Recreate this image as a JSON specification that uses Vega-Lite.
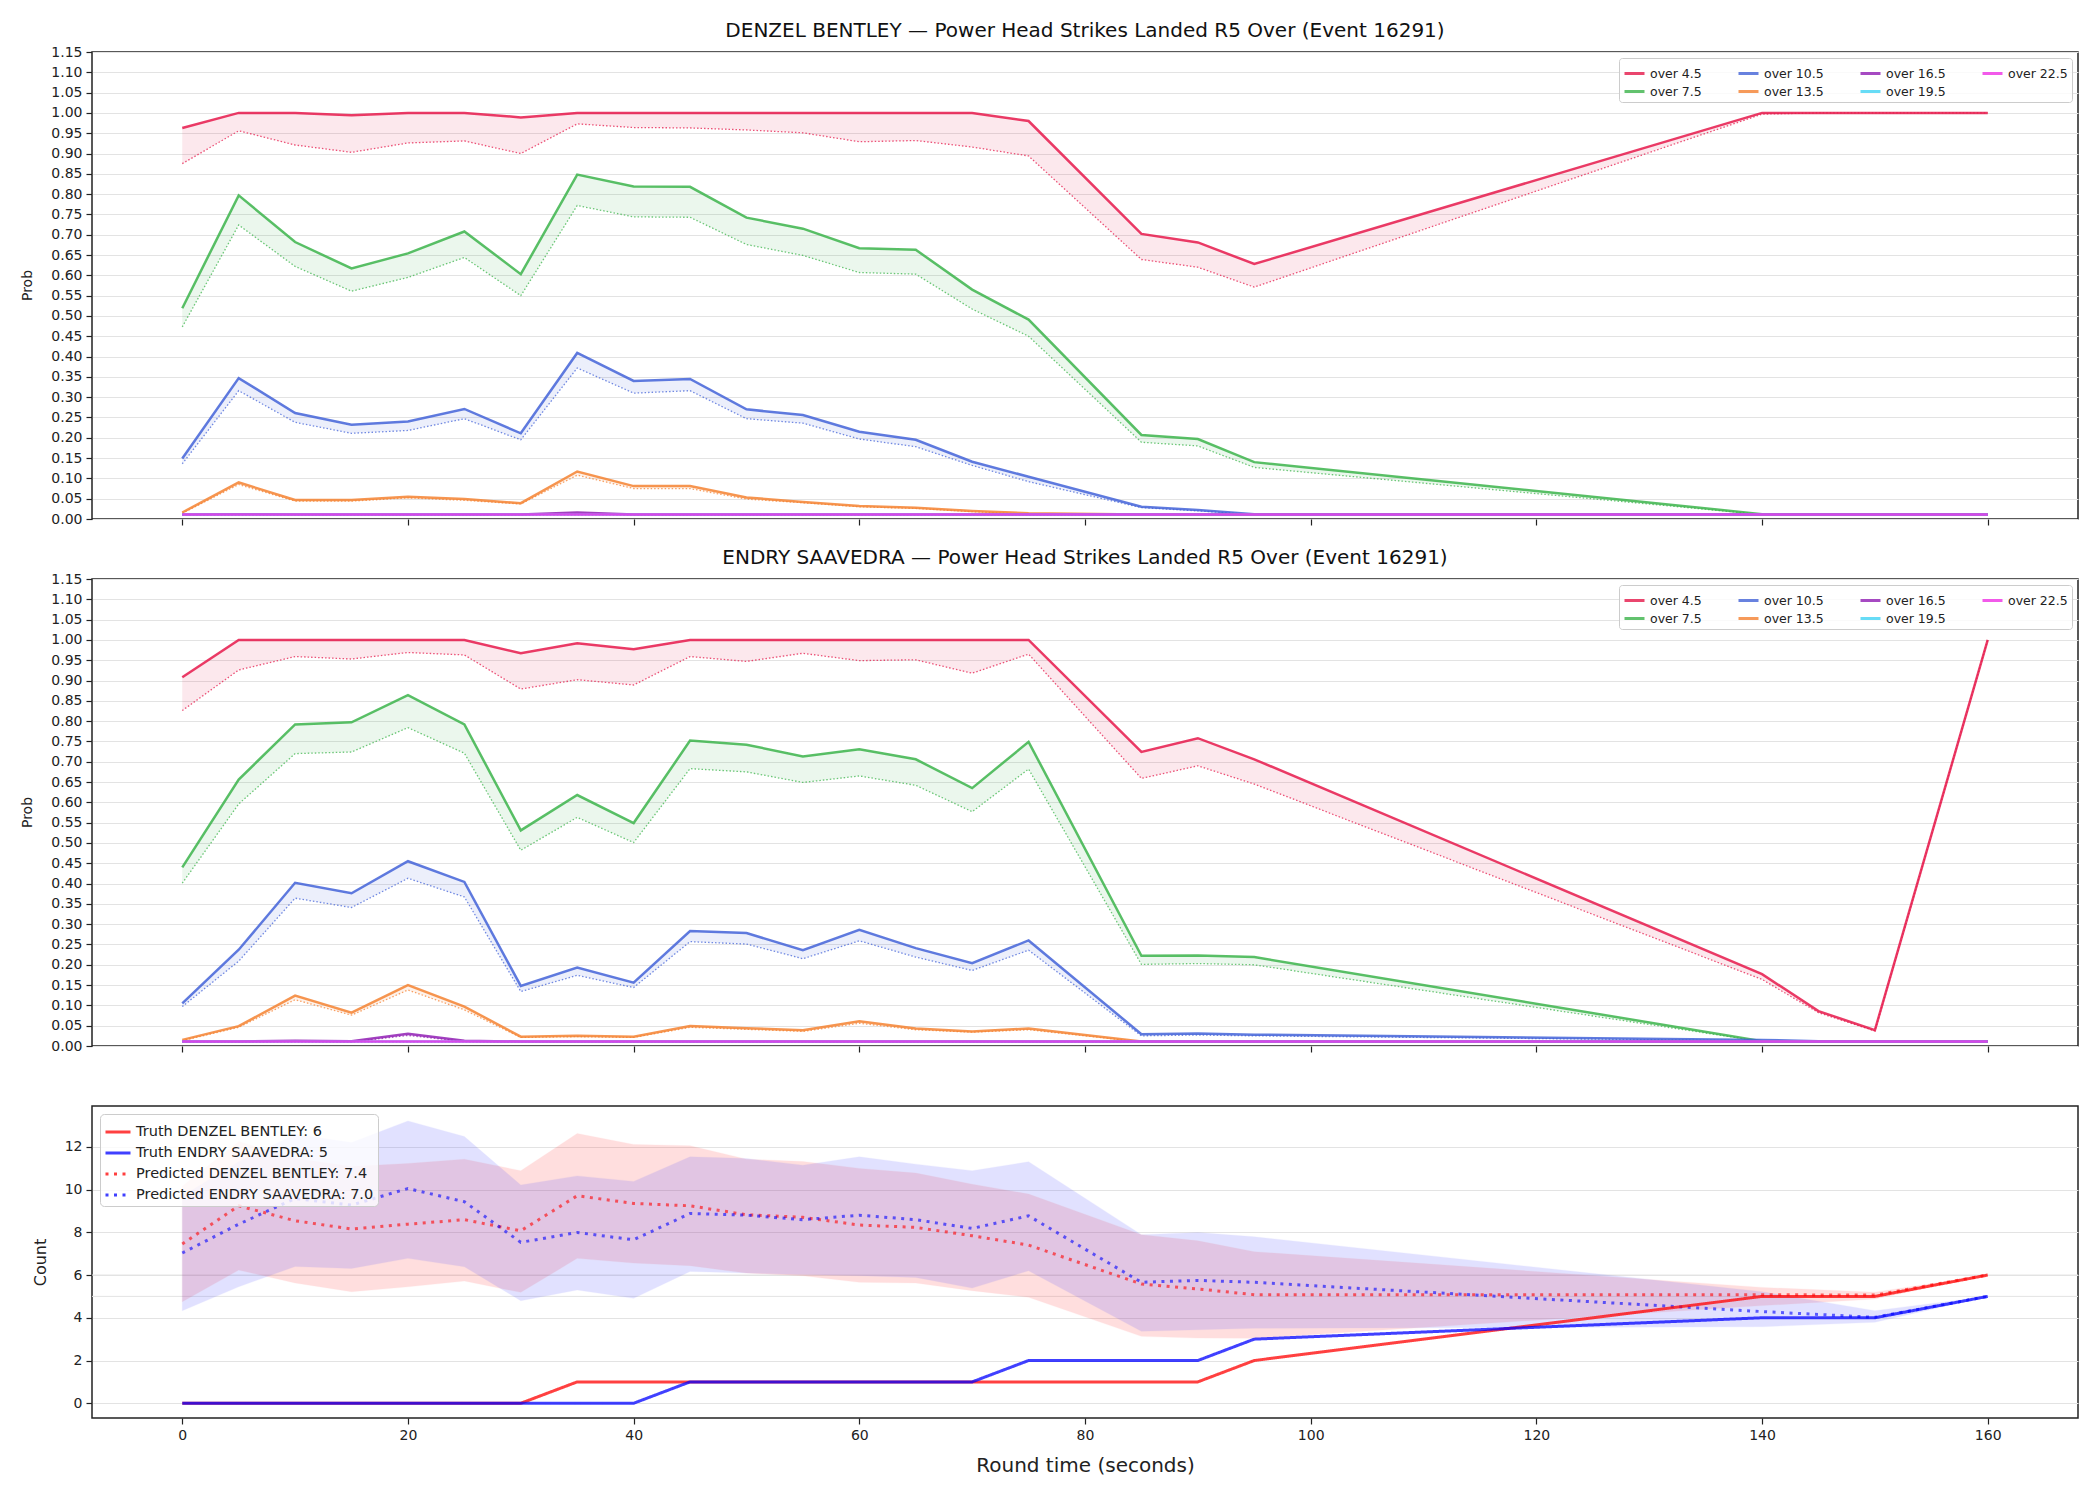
{
"$schema":"https://vega.github.io/schema/vega-lite/v6.json",
"autosize":{"type":"none"},
"padding":{"left":92,"top":52,"right":2008,"bottom":1448},
"background":"white",
"bounds":"flush",
"spacing":60,
"config":{
 "font":"DejaVu Sans",
 "view":{"stroke":"#222222","strokeWidth":1.5},
 "axis":{"labelFont":"DejaVu Sans","labelFontSize":14,"labelColor":"#222222","titleFont":"DejaVu Sans","titleFontWeight":"normal","titleColor":"#222222","tickColor":"#222222","tickSize":6,"tickWidth":1.2,"domain":false,"gridColor":"#e3e3e3","gridWidth":1,"labelPadding":4,"labelOverlap":false,"labelFlush":false,"labelBound":false},
 "axisX":{"grid":false},
 "title":{"font":"DejaVu Sans","fontSize":20,"fontWeight":"normal","color":"#111111","offset":4}
},
"datasets":{
"prob":[
{"g":"A","s":"over 4.5","t":0,"p":0.963,"q":0.875},{"g":"A","s":"over 4.5","t":5,"p":1,"q":0.956},{"g":"A","s":"over 4.5","t":10,"p":1,"q":0.921},{"g":"A","s":"over 4.5","t":15,"p":0.994,"q":0.903},{"g":"A","s":"over 4.5","t":20,"p":1,"q":0.926},{"g":"A","s":"over 4.5","t":25,"p":1,"q":0.931},{"g":"A","s":"over 4.5","t":30,"p":0.989,"q":0.9},{"g":"A","s":"over 4.5","t":35,"p":1,"q":0.973},{"g":"A","s":"over 4.5","t":40,"p":1,"q":0.964},{"g":"A","s":"over 4.5","t":45,"p":1,"q":0.963},{"g":"A","s":"over 4.5","t":50,"p":1,"q":0.958},{"g":"A","s":"over 4.5","t":55,"p":1,"q":0.951},{"g":"A","s":"over 4.5","t":60,"p":1,"q":0.929},{"g":"A","s":"over 4.5","t":65,"p":1,"q":0.932},{"g":"A","s":"over 4.5","t":70,"p":1,"q":0.916},{"g":"A","s":"over 4.5","t":75,"p":0.98,"q":0.894},{"g":"A","s":"over 4.5","t":85,"p":0.702,"q":0.639},{"g":"A","s":"over 4.5","t":90,"p":0.681,"q":0.62},{"g":"A","s":"over 4.5","t":95,"p":0.628,"q":0.571},{"g":"A","s":"over 4.5","t":140,"p":1,"q":0.997},{"g":"A","s":"over 4.5","t":145,"p":1,"q":1},{"g":"A","s":"over 4.5","t":150,"p":1,"q":1},{"g":"A","s":"over 4.5","t":160,"p":1,"q":1},
{"g":"A","s":"over 7.5","t":0,"p":0.519,"q":0.473},{"g":"A","s":"over 7.5","t":5,"p":0.797,"q":0.724},{"g":"A","s":"over 7.5","t":10,"p":0.682,"q":0.622},{"g":"A","s":"over 7.5","t":15,"p":0.617,"q":0.561},{"g":"A","s":"over 7.5","t":20,"p":0.654,"q":0.595},{"g":"A","s":"over 7.5","t":25,"p":0.708,"q":0.644},{"g":"A","s":"over 7.5","t":30,"p":0.603,"q":0.55},{"g":"A","s":"over 7.5","t":35,"p":0.848,"q":0.772},{"g":"A","s":"over 7.5","t":40,"p":0.819,"q":0.744},{"g":"A","s":"over 7.5","t":45,"p":0.818,"q":0.743},{"g":"A","s":"over 7.5","t":50,"p":0.742,"q":0.676},{"g":"A","s":"over 7.5","t":55,"p":0.715,"q":0.649},{"g":"A","s":"over 7.5","t":60,"p":0.667,"q":0.607},{"g":"A","s":"over 7.5","t":65,"p":0.663,"q":0.603},{"g":"A","s":"over 7.5","t":70,"p":0.565,"q":0.517},{"g":"A","s":"over 7.5","t":75,"p":0.491,"q":0.45},{"g":"A","s":"over 7.5","t":85,"p":0.207,"q":0.189},{"g":"A","s":"over 7.5","t":90,"p":0.197,"q":0.18},{"g":"A","s":"over 7.5","t":95,"p":0.14,"q":0.127},{"g":"A","s":"over 7.5","t":140,"p":0.012,"q":0.011},{"g":"A","s":"over 7.5","t":145,"p":0.011,"q":0.01},{"g":"A","s":"over 7.5","t":150,"p":0.011,"q":0.01},{"g":"A","s":"over 7.5","t":160,"p":0.011,"q":0.01},
{"g":"A","s":"over 10.5","t":0,"p":0.149,"q":0.136},{"g":"A","s":"over 10.5","t":5,"p":0.347,"q":0.316},{"g":"A","s":"over 10.5","t":10,"p":0.261,"q":0.238},{"g":"A","s":"over 10.5","t":15,"p":0.232,"q":0.211},{"g":"A","s":"over 10.5","t":20,"p":0.24,"q":0.218},{"g":"A","s":"over 10.5","t":25,"p":0.271,"q":0.247},{"g":"A","s":"over 10.5","t":30,"p":0.211,"q":0.195},{"g":"A","s":"over 10.5","t":35,"p":0.409,"q":0.372},{"g":"A","s":"over 10.5","t":40,"p":0.34,"q":0.31},{"g":"A","s":"over 10.5","t":45,"p":0.345,"q":0.316},{"g":"A","s":"over 10.5","t":50,"p":0.27,"q":0.247},{"g":"A","s":"over 10.5","t":55,"p":0.256,"q":0.236},{"g":"A","s":"over 10.5","t":60,"p":0.215,"q":0.197},{"g":"A","s":"over 10.5","t":65,"p":0.195,"q":0.178},{"g":"A","s":"over 10.5","t":70,"p":0.141,"q":0.132},{"g":"A","s":"over 10.5","t":75,"p":0.104,"q":0.092},{"g":"A","s":"over 10.5","t":85,"p":0.03,"q":0.028},{"g":"A","s":"over 10.5","t":90,"p":0.022,"q":0.02},{"g":"A","s":"over 10.5","t":95,"p":0.012,"q":0.011},{"g":"A","s":"over 10.5","t":140,"p":0.011,"q":0.01},{"g":"A","s":"over 10.5","t":145,"p":0.011,"q":0.01},{"g":"A","s":"over 10.5","t":150,"p":0.011,"q":0.01},{"g":"A","s":"over 10.5","t":160,"p":0.011,"q":0.01},
{"g":"A","s":"over 13.5","t":0,"p":0.016,"q":0.014},{"g":"A","s":"over 13.5","t":5,"p":0.09,"q":0.085},{"g":"A","s":"over 13.5","t":10,"p":0.047,"q":0.044},{"g":"A","s":"over 13.5","t":15,"p":0.047,"q":0.044},{"g":"A","s":"over 13.5","t":20,"p":0.055,"q":0.052},{"g":"A","s":"over 13.5","t":25,"p":0.049,"q":0.046},{"g":"A","s":"over 13.5","t":30,"p":0.039,"q":0.037},{"g":"A","s":"over 13.5","t":35,"p":0.117,"q":0.108},{"g":"A","s":"over 13.5","t":40,"p":0.081,"q":0.075},{"g":"A","s":"over 13.5","t":45,"p":0.081,"q":0.075},{"g":"A","s":"over 13.5","t":50,"p":0.053,"q":0.049},{"g":"A","s":"over 13.5","t":55,"p":0.042,"q":0.04},{"g":"A","s":"over 13.5","t":60,"p":0.032,"q":0.03},{"g":"A","s":"over 13.5","t":65,"p":0.028,"q":0.026},{"g":"A","s":"over 13.5","t":70,"p":0.02,"q":0.018},{"g":"A","s":"over 13.5","t":75,"p":0.014,"q":0.012},{"g":"A","s":"over 13.5","t":85,"p":0.011,"q":0.01},{"g":"A","s":"over 13.5","t":90,"p":0.011,"q":0.01},{"g":"A","s":"over 13.5","t":95,"p":0.011,"q":0.01},{"g":"A","s":"over 13.5","t":140,"p":0.011,"q":0.01},{"g":"A","s":"over 13.5","t":145,"p":0.011,"q":0.01},{"g":"A","s":"over 13.5","t":150,"p":0.011,"q":0.01},{"g":"A","s":"over 13.5","t":160,"p":0.011,"q":0.01},
{"g":"A","s":"over 16.5","t":0,"p":0.011,"q":0.01},{"g":"A","s":"over 16.5","t":5,"p":0.012,"q":0.01},{"g":"A","s":"over 16.5","t":10,"p":0.011,"q":0.01},{"g":"A","s":"over 16.5","t":15,"p":0.011,"q":0.01},{"g":"A","s":"over 16.5","t":20,"p":0.011,"q":0.01},{"g":"A","s":"over 16.5","t":25,"p":0.011,"q":0.01},{"g":"A","s":"over 16.5","t":30,"p":0.011,"q":0.01},{"g":"A","s":"over 16.5","t":35,"p":0.016,"q":0.013},{"g":"A","s":"over 16.5","t":40,"p":0.011,"q":0.01},{"g":"A","s":"over 16.5","t":45,"p":0.011,"q":0.01},{"g":"A","s":"over 16.5","t":50,"p":0.011,"q":0.01},{"g":"A","s":"over 16.5","t":55,"p":0.011,"q":0.01},{"g":"A","s":"over 16.5","t":60,"p":0.011,"q":0.01},{"g":"A","s":"over 16.5","t":65,"p":0.011,"q":0.01},{"g":"A","s":"over 16.5","t":70,"p":0.011,"q":0.01},{"g":"A","s":"over 16.5","t":75,"p":0.011,"q":0.01},{"g":"A","s":"over 16.5","t":85,"p":0.011,"q":0.01},{"g":"A","s":"over 16.5","t":90,"p":0.011,"q":0.01},{"g":"A","s":"over 16.5","t":95,"p":0.011,"q":0.01},{"g":"A","s":"over 16.5","t":140,"p":0.011,"q":0.01},{"g":"A","s":"over 16.5","t":145,"p":0.011,"q":0.01},{"g":"A","s":"over 16.5","t":150,"p":0.011,"q":0.01},{"g":"A","s":"over 16.5","t":160,"p":0.011,"q":0.01},
{"g":"A","s":"over 19.5","t":0,"p":0.011,"q":0.01},{"g":"A","s":"over 19.5","t":5,"p":0.011,"q":0.01},{"g":"A","s":"over 19.5","t":10,"p":0.011,"q":0.01},{"g":"A","s":"over 19.5","t":15,"p":0.011,"q":0.01},{"g":"A","s":"over 19.5","t":20,"p":0.011,"q":0.01},{"g":"A","s":"over 19.5","t":25,"p":0.011,"q":0.01},{"g":"A","s":"over 19.5","t":30,"p":0.011,"q":0.01},{"g":"A","s":"over 19.5","t":35,"p":0.011,"q":0.01},{"g":"A","s":"over 19.5","t":40,"p":0.011,"q":0.01},{"g":"A","s":"over 19.5","t":45,"p":0.011,"q":0.01},{"g":"A","s":"over 19.5","t":50,"p":0.011,"q":0.01},{"g":"A","s":"over 19.5","t":55,"p":0.011,"q":0.01},{"g":"A","s":"over 19.5","t":60,"p":0.011,"q":0.01},{"g":"A","s":"over 19.5","t":65,"p":0.011,"q":0.01},{"g":"A","s":"over 19.5","t":70,"p":0.011,"q":0.01},{"g":"A","s":"over 19.5","t":75,"p":0.011,"q":0.01},{"g":"A","s":"over 19.5","t":85,"p":0.011,"q":0.01},{"g":"A","s":"over 19.5","t":90,"p":0.011,"q":0.01},{"g":"A","s":"over 19.5","t":95,"p":0.011,"q":0.01},{"g":"A","s":"over 19.5","t":140,"p":0.011,"q":0.01},{"g":"A","s":"over 19.5","t":145,"p":0.011,"q":0.01},{"g":"A","s":"over 19.5","t":150,"p":0.011,"q":0.01},{"g":"A","s":"over 19.5","t":160,"p":0.011,"q":0.01},
{"g":"A","s":"over 22.5","t":0,"p":0.011,"q":0.01},{"g":"A","s":"over 22.5","t":5,"p":0.011,"q":0.01},{"g":"A","s":"over 22.5","t":10,"p":0.011,"q":0.01},{"g":"A","s":"over 22.5","t":15,"p":0.011,"q":0.01},{"g":"A","s":"over 22.5","t":20,"p":0.011,"q":0.01},{"g":"A","s":"over 22.5","t":25,"p":0.011,"q":0.01},{"g":"A","s":"over 22.5","t":30,"p":0.011,"q":0.01},{"g":"A","s":"over 22.5","t":35,"p":0.011,"q":0.01},{"g":"A","s":"over 22.5","t":40,"p":0.011,"q":0.01},{"g":"A","s":"over 22.5","t":45,"p":0.011,"q":0.01},{"g":"A","s":"over 22.5","t":50,"p":0.011,"q":0.01},{"g":"A","s":"over 22.5","t":55,"p":0.011,"q":0.01},{"g":"A","s":"over 22.5","t":60,"p":0.011,"q":0.01},{"g":"A","s":"over 22.5","t":65,"p":0.011,"q":0.01},{"g":"A","s":"over 22.5","t":70,"p":0.011,"q":0.01},{"g":"A","s":"over 22.5","t":75,"p":0.011,"q":0.01},{"g":"A","s":"over 22.5","t":85,"p":0.011,"q":0.01},{"g":"A","s":"over 22.5","t":90,"p":0.011,"q":0.01},{"g":"A","s":"over 22.5","t":95,"p":0.011,"q":0.01},{"g":"A","s":"over 22.5","t":140,"p":0.011,"q":0.01},{"g":"A","s":"over 22.5","t":145,"p":0.011,"q":0.01},{"g":"A","s":"over 22.5","t":150,"p":0.011,"q":0.01},{"g":"A","s":"over 22.5","t":160,"p":0.011,"q":0.01},
{"g":"B","s":"over 4.5","t":0,"p":0.908,"q":0.826},{"g":"B","s":"over 4.5","t":5,"p":1,"q":0.926},{"g":"B","s":"over 4.5","t":10,"p":1,"q":0.959},{"g":"B","s":"over 4.5","t":15,"p":1,"q":0.953},{"g":"B","s":"over 4.5","t":20,"p":1,"q":0.969},{"g":"B","s":"over 4.5","t":25,"p":1,"q":0.963},{"g":"B","s":"over 4.5","t":30,"p":0.967,"q":0.879},{"g":"B","s":"over 4.5","t":35,"p":0.992,"q":0.902},{"g":"B","s":"over 4.5","t":40,"p":0.977,"q":0.889},{"g":"B","s":"over 4.5","t":45,"p":1,"q":0.959},{"g":"B","s":"over 4.5","t":50,"p":1,"q":0.947},{"g":"B","s":"over 4.5","t":55,"p":1,"q":0.967},{"g":"B","s":"over 4.5","t":60,"p":1,"q":0.949},{"g":"B","s":"over 4.5","t":65,"p":1,"q":0.951},{"g":"B","s":"over 4.5","t":70,"p":1,"q":0.918},{"g":"B","s":"over 4.5","t":75,"p":1,"q":0.965},{"g":"B","s":"over 4.5","t":85,"p":0.724,"q":0.659},{"g":"B","s":"over 4.5","t":90,"p":0.758,"q":0.69},{"g":"B","s":"over 4.5","t":95,"p":0.706,"q":0.645},{"g":"B","s":"over 4.5","t":140,"p":0.177,"q":0.164},{"g":"B","s":"over 4.5","t":145,"p":0.086,"q":0.082},{"g":"B","s":"over 4.5","t":150,"p":0.039,"q":0.037},{"g":"B","s":"over 4.5","t":160,"p":1,"q":1},
{"g":"B","s":"over 7.5","t":0,"p":0.44,"q":0.401},{"g":"B","s":"over 7.5","t":5,"p":0.656,"q":0.596},{"g":"B","s":"over 7.5","t":10,"p":0.792,"q":0.72},{"g":"B","s":"over 7.5","t":15,"p":0.797,"q":0.724},{"g":"B","s":"over 7.5","t":20,"p":0.864,"q":0.784},{"g":"B","s":"over 7.5","t":25,"p":0.792,"q":0.721},{"g":"B","s":"over 7.5","t":30,"p":0.531,"q":0.482},{"g":"B","s":"over 7.5","t":35,"p":0.618,"q":0.563},{"g":"B","s":"over 7.5","t":40,"p":0.549,"q":0.501},{"g":"B","s":"over 7.5","t":45,"p":0.752,"q":0.683},{"g":"B","s":"over 7.5","t":50,"p":0.742,"q":0.675},{"g":"B","s":"over 7.5","t":55,"p":0.713,"q":0.649},{"g":"B","s":"over 7.5","t":60,"p":0.731,"q":0.665},{"g":"B","s":"over 7.5","t":65,"p":0.706,"q":0.642},{"g":"B","s":"over 7.5","t":70,"p":0.635,"q":0.577},{"g":"B","s":"over 7.5","t":75,"p":0.749,"q":0.682},{"g":"B","s":"over 7.5","t":85,"p":0.222,"q":0.201},{"g":"B","s":"over 7.5","t":90,"p":0.223,"q":0.203},{"g":"B","s":"over 7.5","t":95,"p":0.219,"q":0.2},{"g":"B","s":"over 7.5","t":140,"p":0.012,"q":0.011},{"g":"B","s":"over 7.5","t":145,"p":0.011,"q":0.01},{"g":"B","s":"over 7.5","t":150,"p":0.011,"q":0.01},{"g":"B","s":"over 7.5","t":160,"p":0.011,"q":0.01},
{"g":"B","s":"over 10.5","t":0,"p":0.105,"q":0.097},{"g":"B","s":"over 10.5","t":5,"p":0.237,"q":0.209},{"g":"B","s":"over 10.5","t":10,"p":0.402,"q":0.364},{"g":"B","s":"over 10.5","t":15,"p":0.376,"q":0.341},{"g":"B","s":"over 10.5","t":20,"p":0.455,"q":0.413},{"g":"B","s":"over 10.5","t":25,"p":0.404,"q":0.367},{"g":"B","s":"over 10.5","t":30,"p":0.148,"q":0.134},{"g":"B","s":"over 10.5","t":35,"p":0.193,"q":0.174},{"g":"B","s":"over 10.5","t":40,"p":0.156,"q":0.144},{"g":"B","s":"over 10.5","t":45,"p":0.283,"q":0.257},{"g":"B","s":"over 10.5","t":50,"p":0.278,"q":0.251},{"g":"B","s":"over 10.5","t":55,"p":0.236,"q":0.215},{"g":"B","s":"over 10.5","t":60,"p":0.286,"q":0.259},{"g":"B","s":"over 10.5","t":65,"p":0.241,"q":0.219},{"g":"B","s":"over 10.5","t":70,"p":0.204,"q":0.186},{"g":"B","s":"over 10.5","t":75,"p":0.26,"q":0.236},{"g":"B","s":"over 10.5","t":85,"p":0.029,"q":0.025},{"g":"B","s":"over 10.5","t":90,"p":0.031,"q":0.027},{"g":"B","s":"over 10.5","t":95,"p":0.028,"q":0.025},{"g":"B","s":"over 10.5","t":140,"p":0.015,"q":0.013},{"g":"B","s":"over 10.5","t":145,"p":0.012,"q":0.011},{"g":"B","s":"over 10.5","t":150,"p":0.011,"q":0.01},{"g":"B","s":"over 10.5","t":160,"p":0.011,"q":0.01},
{"g":"B","s":"over 13.5","t":0,"p":0.015,"q":0.013},{"g":"B","s":"over 13.5","t":5,"p":0.049,"q":0.046},{"g":"B","s":"over 13.5","t":10,"p":0.124,"q":0.114},{"g":"B","s":"over 13.5","t":15,"p":0.082,"q":0.076},{"g":"B","s":"over 13.5","t":20,"p":0.15,"q":0.138},{"g":"B","s":"over 13.5","t":25,"p":0.097,"q":0.089},{"g":"B","s":"over 13.5","t":30,"p":0.023,"q":0.021},{"g":"B","s":"over 13.5","t":35,"p":0.025,"q":0.023},{"g":"B","s":"over 13.5","t":40,"p":0.023,"q":0.021},{"g":"B","s":"over 13.5","t":45,"p":0.049,"q":0.046},{"g":"B","s":"over 13.5","t":50,"p":0.044,"q":0.041},{"g":"B","s":"over 13.5","t":55,"p":0.039,"q":0.036},{"g":"B","s":"over 13.5","t":60,"p":0.061,"q":0.056},{"g":"B","s":"over 13.5","t":65,"p":0.043,"q":0.04},{"g":"B","s":"over 13.5","t":70,"p":0.036,"q":0.034},{"g":"B","s":"over 13.5","t":75,"p":0.043,"q":0.04},{"g":"B","s":"over 13.5","t":85,"p":0.011,"q":0.01},{"g":"B","s":"over 13.5","t":90,"p":0.011,"q":0.01},{"g":"B","s":"over 13.5","t":95,"p":0.011,"q":0.01},{"g":"B","s":"over 13.5","t":140,"p":0.011,"q":0.01},{"g":"B","s":"over 13.5","t":145,"p":0.011,"q":0.01},{"g":"B","s":"over 13.5","t":150,"p":0.011,"q":0.01},{"g":"B","s":"over 13.5","t":160,"p":0.011,"q":0.01},
{"g":"B","s":"over 16.5","t":0,"p":0.011,"q":0.01},{"g":"B","s":"over 16.5","t":5,"p":0.011,"q":0.01},{"g":"B","s":"over 16.5","t":10,"p":0.013,"q":0.011},{"g":"B","s":"over 16.5","t":15,"p":0.012,"q":0.01},{"g":"B","s":"over 16.5","t":20,"p":0.03,"q":0.026},{"g":"B","s":"over 16.5","t":25,"p":0.013,"q":0.011},{"g":"B","s":"over 16.5","t":30,"p":0.011,"q":0.01},{"g":"B","s":"over 16.5","t":35,"p":0.011,"q":0.01},{"g":"B","s":"over 16.5","t":40,"p":0.011,"q":0.01},{"g":"B","s":"over 16.5","t":45,"p":0.011,"q":0.01},{"g":"B","s":"over 16.5","t":50,"p":0.011,"q":0.01},{"g":"B","s":"over 16.5","t":55,"p":0.011,"q":0.01},{"g":"B","s":"over 16.5","t":60,"p":0.011,"q":0.01},{"g":"B","s":"over 16.5","t":65,"p":0.011,"q":0.01},{"g":"B","s":"over 16.5","t":70,"p":0.011,"q":0.01},{"g":"B","s":"over 16.5","t":75,"p":0.011,"q":0.01},{"g":"B","s":"over 16.5","t":85,"p":0.011,"q":0.01},{"g":"B","s":"over 16.5","t":90,"p":0.011,"q":0.01},{"g":"B","s":"over 16.5","t":95,"p":0.011,"q":0.01},{"g":"B","s":"over 16.5","t":140,"p":0.011,"q":0.01},{"g":"B","s":"over 16.5","t":145,"p":0.011,"q":0.01},{"g":"B","s":"over 16.5","t":150,"p":0.011,"q":0.01},{"g":"B","s":"over 16.5","t":160,"p":0.011,"q":0.01},
{"g":"B","s":"over 19.5","t":0,"p":0.011,"q":0.01},{"g":"B","s":"over 19.5","t":5,"p":0.011,"q":0.01},{"g":"B","s":"over 19.5","t":10,"p":0.011,"q":0.01},{"g":"B","s":"over 19.5","t":15,"p":0.011,"q":0.01},{"g":"B","s":"over 19.5","t":20,"p":0.011,"q":0.01},{"g":"B","s":"over 19.5","t":25,"p":0.011,"q":0.01},{"g":"B","s":"over 19.5","t":30,"p":0.011,"q":0.01},{"g":"B","s":"over 19.5","t":35,"p":0.011,"q":0.01},{"g":"B","s":"over 19.5","t":40,"p":0.011,"q":0.01},{"g":"B","s":"over 19.5","t":45,"p":0.011,"q":0.01},{"g":"B","s":"over 19.5","t":50,"p":0.011,"q":0.01},{"g":"B","s":"over 19.5","t":55,"p":0.011,"q":0.01},{"g":"B","s":"over 19.5","t":60,"p":0.011,"q":0.01},{"g":"B","s":"over 19.5","t":65,"p":0.011,"q":0.01},{"g":"B","s":"over 19.5","t":70,"p":0.011,"q":0.01},{"g":"B","s":"over 19.5","t":75,"p":0.011,"q":0.01},{"g":"B","s":"over 19.5","t":85,"p":0.011,"q":0.01},{"g":"B","s":"over 19.5","t":90,"p":0.011,"q":0.01},{"g":"B","s":"over 19.5","t":95,"p":0.011,"q":0.01},{"g":"B","s":"over 19.5","t":140,"p":0.011,"q":0.01},{"g":"B","s":"over 19.5","t":145,"p":0.011,"q":0.01},{"g":"B","s":"over 19.5","t":150,"p":0.011,"q":0.01},{"g":"B","s":"over 19.5","t":160,"p":0.011,"q":0.01},
{"g":"B","s":"over 22.5","t":0,"p":0.011,"q":0.01},{"g":"B","s":"over 22.5","t":5,"p":0.011,"q":0.01},{"g":"B","s":"over 22.5","t":10,"p":0.011,"q":0.01},{"g":"B","s":"over 22.5","t":15,"p":0.011,"q":0.01},{"g":"B","s":"over 22.5","t":20,"p":0.011,"q":0.01},{"g":"B","s":"over 22.5","t":25,"p":0.011,"q":0.01},{"g":"B","s":"over 22.5","t":30,"p":0.011,"q":0.01},{"g":"B","s":"over 22.5","t":35,"p":0.011,"q":0.01},{"g":"B","s":"over 22.5","t":40,"p":0.011,"q":0.01},{"g":"B","s":"over 22.5","t":45,"p":0.011,"q":0.01},{"g":"B","s":"over 22.5","t":50,"p":0.011,"q":0.01},{"g":"B","s":"over 22.5","t":55,"p":0.011,"q":0.01},{"g":"B","s":"over 22.5","t":60,"p":0.011,"q":0.01},{"g":"B","s":"over 22.5","t":65,"p":0.011,"q":0.01},{"g":"B","s":"over 22.5","t":70,"p":0.011,"q":0.01},{"g":"B","s":"over 22.5","t":75,"p":0.011,"q":0.01},{"g":"B","s":"over 22.5","t":85,"p":0.011,"q":0.01},{"g":"B","s":"over 22.5","t":90,"p":0.011,"q":0.01},{"g":"B","s":"over 22.5","t":95,"p":0.011,"q":0.01},{"g":"B","s":"over 22.5","t":140,"p":0.011,"q":0.01},{"g":"B","s":"over 22.5","t":145,"p":0.011,"q":0.01},{"g":"B","s":"over 22.5","t":150,"p":0.011,"q":0.01},{"g":"B","s":"over 22.5","t":160,"p":0.011,"q":0.01}
],
"cnt":[
{"k":"Truth DENZEL BENTLEY: 6","kd":"T","t":0,"v":0},{"k":"Truth DENZEL BENTLEY: 6","kd":"T","t":5,"v":0},{"k":"Truth DENZEL BENTLEY: 6","kd":"T","t":10,"v":0},{"k":"Truth DENZEL BENTLEY: 6","kd":"T","t":15,"v":0},{"k":"Truth DENZEL BENTLEY: 6","kd":"T","t":20,"v":0},{"k":"Truth DENZEL BENTLEY: 6","kd":"T","t":25,"v":0},{"k":"Truth DENZEL BENTLEY: 6","kd":"T","t":30,"v":0},{"k":"Truth DENZEL BENTLEY: 6","kd":"T","t":35,"v":1},{"k":"Truth DENZEL BENTLEY: 6","kd":"T","t":40,"v":1},{"k":"Truth DENZEL BENTLEY: 6","kd":"T","t":45,"v":1},{"k":"Truth DENZEL BENTLEY: 6","kd":"T","t":50,"v":1},{"k":"Truth DENZEL BENTLEY: 6","kd":"T","t":55,"v":1},{"k":"Truth DENZEL BENTLEY: 6","kd":"T","t":60,"v":1},{"k":"Truth DENZEL BENTLEY: 6","kd":"T","t":65,"v":1},{"k":"Truth DENZEL BENTLEY: 6","kd":"T","t":70,"v":1},{"k":"Truth DENZEL BENTLEY: 6","kd":"T","t":75,"v":1},{"k":"Truth DENZEL BENTLEY: 6","kd":"T","t":85,"v":1},{"k":"Truth DENZEL BENTLEY: 6","kd":"T","t":90,"v":1},{"k":"Truth DENZEL BENTLEY: 6","kd":"T","t":95,"v":2},{"k":"Truth DENZEL BENTLEY: 6","kd":"T","t":140,"v":5},{"k":"Truth DENZEL BENTLEY: 6","kd":"T","t":150,"v":5},{"k":"Truth DENZEL BENTLEY: 6","kd":"T","t":160,"v":6},
{"k":"Truth ENDRY SAAVEDRA: 5","kd":"T","t":0,"v":0},{"k":"Truth ENDRY SAAVEDRA: 5","kd":"T","t":5,"v":0},{"k":"Truth ENDRY SAAVEDRA: 5","kd":"T","t":10,"v":0},{"k":"Truth ENDRY SAAVEDRA: 5","kd":"T","t":15,"v":0},{"k":"Truth ENDRY SAAVEDRA: 5","kd":"T","t":20,"v":0},{"k":"Truth ENDRY SAAVEDRA: 5","kd":"T","t":25,"v":0},{"k":"Truth ENDRY SAAVEDRA: 5","kd":"T","t":30,"v":0},{"k":"Truth ENDRY SAAVEDRA: 5","kd":"T","t":35,"v":0},{"k":"Truth ENDRY SAAVEDRA: 5","kd":"T","t":40,"v":0},{"k":"Truth ENDRY SAAVEDRA: 5","kd":"T","t":45,"v":1},{"k":"Truth ENDRY SAAVEDRA: 5","kd":"T","t":50,"v":1},{"k":"Truth ENDRY SAAVEDRA: 5","kd":"T","t":55,"v":1},{"k":"Truth ENDRY SAAVEDRA: 5","kd":"T","t":60,"v":1},{"k":"Truth ENDRY SAAVEDRA: 5","kd":"T","t":65,"v":1},{"k":"Truth ENDRY SAAVEDRA: 5","kd":"T","t":70,"v":1},{"k":"Truth ENDRY SAAVEDRA: 5","kd":"T","t":75,"v":2},{"k":"Truth ENDRY SAAVEDRA: 5","kd":"T","t":85,"v":2},{"k":"Truth ENDRY SAAVEDRA: 5","kd":"T","t":90,"v":2},{"k":"Truth ENDRY SAAVEDRA: 5","kd":"T","t":95,"v":3},{"k":"Truth ENDRY SAAVEDRA: 5","kd":"T","t":140,"v":4},{"k":"Truth ENDRY SAAVEDRA: 5","kd":"T","t":150,"v":4},{"k":"Truth ENDRY SAAVEDRA: 5","kd":"T","t":160,"v":5},
{"k":"Predicted DENZEL BENTLEY: 7.4","kd":"P","t":0,"v":7.45},{"k":"Predicted DENZEL BENTLEY: 7.4","kd":"P","t":5,"v":9.24},{"k":"Predicted DENZEL BENTLEY: 7.4","kd":"P","t":10,"v":8.54},{"k":"Predicted DENZEL BENTLEY: 7.4","kd":"P","t":15,"v":8.15},{"k":"Predicted DENZEL BENTLEY: 7.4","kd":"P","t":20,"v":8.38},{"k":"Predicted DENZEL BENTLEY: 7.4","kd":"P","t":25,"v":8.59},{"k":"Predicted DENZEL BENTLEY: 7.4","kd":"P","t":30,"v":8.07},{"k":"Predicted DENZEL BENTLEY: 7.4","kd":"P","t":35,"v":9.71},{"k":"Predicted DENZEL BENTLEY: 7.4","kd":"P","t":40,"v":9.35},{"k":"Predicted DENZEL BENTLEY: 7.4","kd":"P","t":45,"v":9.24},{"k":"Predicted DENZEL BENTLEY: 7.4","kd":"P","t":50,"v":8.82},{"k":"Predicted DENZEL BENTLEY: 7.4","kd":"P","t":55,"v":8.7},{"k":"Predicted DENZEL BENTLEY: 7.4","kd":"P","t":60,"v":8.34},{"k":"Predicted DENZEL BENTLEY: 7.4","kd":"P","t":65,"v":8.23},{"k":"Predicted DENZEL BENTLEY: 7.4","kd":"P","t":70,"v":7.84},{"k":"Predicted DENZEL BENTLEY: 7.4","kd":"P","t":75,"v":7.4},{"k":"Predicted DENZEL BENTLEY: 7.4","kd":"P","t":85,"v":5.58},{"k":"Predicted DENZEL BENTLEY: 7.4","kd":"P","t":90,"v":5.35},{"k":"Predicted DENZEL BENTLEY: 7.4","kd":"P","t":95,"v":5.08},{"k":"Predicted DENZEL BENTLEY: 7.4","kd":"P","t":140,"v":5.08},{"k":"Predicted DENZEL BENTLEY: 7.4","kd":"P","t":150,"v":5.06},{"k":"Predicted DENZEL BENTLEY: 7.4","kd":"P","t":160,"v":6},
{"k":"Predicted ENDRY SAAVEDRA: 7.0","kd":"P","t":0,"v":7.03},{"k":"Predicted ENDRY SAAVEDRA: 7.0","kd":"P","t":5,"v":8.38},{"k":"Predicted ENDRY SAAVEDRA: 7.0","kd":"P","t":10,"v":9.58},{"k":"Predicted ENDRY SAAVEDRA: 7.0","kd":"P","t":15,"v":9.27},{"k":"Predicted ENDRY SAAVEDRA: 7.0","kd":"P","t":20,"v":10.05},{"k":"Predicted ENDRY SAAVEDRA: 7.0","kd":"P","t":25,"v":9.43},{"k":"Predicted ENDRY SAAVEDRA: 7.0","kd":"P","t":30,"v":7.53},{"k":"Predicted ENDRY SAAVEDRA: 7.0","kd":"P","t":35,"v":7.99},{"k":"Predicted ENDRY SAAVEDRA: 7.0","kd":"P","t":40,"v":7.65},{"k":"Predicted ENDRY SAAVEDRA: 7.0","kd":"P","t":45,"v":8.88},{"k":"Predicted ENDRY SAAVEDRA: 7.0","kd":"P","t":50,"v":8.8},{"k":"Predicted ENDRY SAAVEDRA: 7.0","kd":"P","t":55,"v":8.59},{"k":"Predicted ENDRY SAAVEDRA: 7.0","kd":"P","t":60,"v":8.8},{"k":"Predicted ENDRY SAAVEDRA: 7.0","kd":"P","t":65,"v":8.59},{"k":"Predicted ENDRY SAAVEDRA: 7.0","kd":"P","t":70,"v":8.18},{"k":"Predicted ENDRY SAAVEDRA: 7.0","kd":"P","t":75,"v":8.77},{"k":"Predicted ENDRY SAAVEDRA: 7.0","kd":"P","t":85,"v":5.66},{"k":"Predicted ENDRY SAAVEDRA: 7.0","kd":"P","t":90,"v":5.75},{"k":"Predicted ENDRY SAAVEDRA: 7.0","kd":"P","t":95,"v":5.66},{"k":"Predicted ENDRY SAAVEDRA: 7.0","kd":"P","t":140,"v":4.29},{"k":"Predicted ENDRY SAAVEDRA: 7.0","kd":"P","t":150,"v":4.02},{"k":"Predicted ENDRY SAAVEDRA: 7.0","kd":"P","t":160,"v":5}
],
"band":[
{"pl":"R","t":0,"lo":4.75,"hi":10.15},{"pl":"R","t":5,"lo":6.23,"hi":12.25},{"pl":"R","t":10,"lo":5.63,"hi":11.45},{"pl":"R","t":15,"lo":5.22,"hi":11.08},{"pl":"R","t":20,"lo":5.45,"hi":11.22},{"pl":"R","t":25,"lo":5.72,"hi":11.42},{"pl":"R","t":30,"lo":5.19,"hi":10.88},{"pl":"R","t":35,"lo":6.78,"hi":12.62},{"pl":"R","t":40,"lo":6.56,"hi":12.11},{"pl":"R","t":45,"lo":6.44,"hi":12.05},{"pl":"R","t":50,"lo":6.09,"hi":11.42},{"pl":"R","t":55,"lo":5.97,"hi":11.31},{"pl":"R","t":60,"lo":5.66,"hi":10.99},{"pl":"R","t":65,"lo":5.63,"hi":10.77},{"pl":"R","t":70,"lo":5.27,"hi":10.25},{"pl":"R","t":75,"lo":4.96,"hi":9.79},{"pl":"R","t":85,"lo":3.13,"hi":7.89},{"pl":"R","t":90,"lo":3.05,"hi":7.6},{"pl":"R","t":95,"lo":3.04,"hi":7.09},{"pl":"R","t":140,"lo":4.57,"hi":5.42},{"pl":"R","t":150,"lo":4.88,"hi":5.2},{"pl":"R","t":160,"lo":6,"hi":6},
{"pl":"B","t":0,"lo":4.33,"hi":9.7},{"pl":"B","t":5,"lo":5.45,"hi":11.3},{"pl":"B","t":10,"lo":6.4,"hi":12.59},{"pl":"B","t":15,"lo":6.31,"hi":12.2},{"pl":"B","t":20,"lo":6.78,"hi":13.21},{"pl":"B","t":25,"lo":6.39,"hi":12.48},{"pl":"B","t":30,"lo":4.8,"hi":10.21},{"pl":"B","t":35,"lo":5.3,"hi":10.64},{"pl":"B","t":40,"lo":4.91,"hi":10.38},{"pl":"B","t":45,"lo":6.17,"hi":11.53},{"pl":"B","t":50,"lo":6.09,"hi":11.45},{"pl":"B","t":55,"lo":6.02,"hi":11.14},{"pl":"B","t":60,"lo":5.97,"hi":11.53},{"pl":"B","t":65,"lo":5.89,"hi":11.19},{"pl":"B","t":70,"lo":5.39,"hi":10.88},{"pl":"B","t":75,"lo":6.2,"hi":11.3},{"pl":"B","t":85,"lo":3.37,"hi":7.89},{"pl":"B","t":90,"lo":3.44,"hi":7.99},{"pl":"B","t":95,"lo":3.51,"hi":7.79},{"pl":"B","t":140,"lo":3.58,"hi":5.22},{"pl":"B","t":150,"lo":3.79,"hi":4.33},{"pl":"B","t":160,"lo":5,"hi":5}
],
"ref":[{"y":5},{"y":6}]
},
"resolve":{"scale":{"x":"independent","y":"independent","color":"independent","strokeDash":"independent"}},
"vconcat":[
{
 "width":1986,"height":467,
 "title":{"text":"DENZEL BENTLEY — Power Head Strikes Landed R5 Over (Event 16291)"},
 "data":{"name":"prob"},
 "transform":[{"filter":"datum.g === 'A'"}],
 "encoding":{
  "x":{"field":"t","type":"quantitative","scale":{"domain":[-8,168],"nice":false,"zero":false},"axis":{"values":[0,20,40,60,80,100,120,140,160],"labels":false,"title":null,"grid":false}},
  "color":{"field":"s","type":"nominal","scale":{"domain":["over 4.5","over 7.5","over 10.5","over 13.5","over 16.5","over 19.5","over 22.5"],"range":["#e6194b","#3cb44b","#4363d8","#f58231","#911eb4","#42d4f4","#f032e6"]},
   "legend":{"orient":"top-right","columns":4,"title":null,"symbolType":"stroke","symbolStrokeWidth":3,"symbolSize":400,"symbolOpacity":0.8,"labelFontSize":12.5,"labelFont":"DejaVu Sans","labelColor":"#222222","fillColor":"rgba(255,255,255,0.8)","strokeColor":"#cccccc","padding":4,"cornerRadius":3,"offset":6,"columnPadding":30,"rowPadding":0}}
 },
 "layer":[
  {"mark":{"type":"area","opacity":0.1},"encoding":{"y":{"field":"q","type":"quantitative","stack":null,"scale":{"domain":[0,1.15],"nice":false,"zero":false},"axis":{"values":[0,0.05,0.1,0.15,0.2,0.25,0.3,0.35,0.4,0.45,0.5,0.55,0.6,0.65,0.7,0.75,0.8,0.85,0.9,0.95,1,1.05,1.1,1.15],"labelOverlap":false,"format":".2f","title":"Prob","titleFontSize":14,"titleAngle":270,"titleBaseline":"middle","titleAlign":"center","titleX":-65,"titleY":233}},"y2":{"field":"p"}}},
  {"mark":{"type":"line","strokeWidth":1.3,"strokeDash":[1.5,2],"opacity":0.75},"encoding":{"y":{"field":"q","type":"quantitative","axis":{"values":[0,0.05,0.1,0.15,0.2,0.25,0.3,0.35,0.4,0.45,0.5,0.55,0.6,0.65,0.7,0.75,0.8,0.85,0.9,0.95,1,1.05,1.1,1.15],"labelOverlap":false,"format":".2f","title":"Prob","titleFontSize":14,"titleAngle":270,"titleBaseline":"middle","titleAlign":"center","titleX":-65,"titleY":233}}}},
  {"mark":{"type":"line","strokeWidth":2.5,"opacity":0.85},"encoding":{"y":{"field":"p","type":"quantitative","axis":{"values":[0,0.05,0.1,0.15,0.2,0.25,0.3,0.35,0.4,0.45,0.5,0.55,0.6,0.65,0.7,0.75,0.8,0.85,0.9,0.95,1,1.05,1.1,1.15],"labelOverlap":false,"format":".2f","title":"Prob","titleFontSize":14,"titleAngle":270,"titleBaseline":"middle","titleAlign":"center","titleX":-65,"titleY":233}}}}
 ]
},
{
 "width":1986,"height":467,
 "title":{"text":"ENDRY SAAVEDRA — Power Head Strikes Landed R5 Over (Event 16291)"},
 "data":{"name":"prob"},
 "transform":[{"filter":"datum.g === 'B'"}],
 "encoding":{
  "x":{"field":"t","type":"quantitative","scale":{"domain":[-8,168],"nice":false,"zero":false},"axis":{"values":[0,20,40,60,80,100,120,140,160],"labels":false,"title":null,"grid":false}},
  "color":{"field":"s","type":"nominal","scale":{"domain":["over 4.5","over 7.5","over 10.5","over 13.5","over 16.5","over 19.5","over 22.5"],"range":["#e6194b","#3cb44b","#4363d8","#f58231","#911eb4","#42d4f4","#f032e6"]},
   "legend":{"orient":"top-right","columns":4,"title":null,"symbolType":"stroke","symbolStrokeWidth":3,"symbolSize":400,"symbolOpacity":0.8,"labelFontSize":12.5,"labelFont":"DejaVu Sans","labelColor":"#222222","fillColor":"rgba(255,255,255,0.8)","strokeColor":"#cccccc","padding":4,"cornerRadius":3,"offset":6,"columnPadding":30,"rowPadding":0}}
 },
 "layer":[
  {"mark":{"type":"area","opacity":0.1},"encoding":{"y":{"field":"q","type":"quantitative","stack":null,"scale":{"domain":[0,1.15],"nice":false,"zero":false},"axis":{"values":[0,0.05,0.1,0.15,0.2,0.25,0.3,0.35,0.4,0.45,0.5,0.55,0.6,0.65,0.7,0.75,0.8,0.85,0.9,0.95,1,1.05,1.1,1.15],"labelOverlap":false,"format":".2f","title":"Prob","titleFontSize":14,"titleAngle":270,"titleBaseline":"middle","titleAlign":"center","titleX":-65,"titleY":233}},"y2":{"field":"p"}}},
  {"mark":{"type":"line","strokeWidth":1.3,"strokeDash":[1.5,2],"opacity":0.75},"encoding":{"y":{"field":"q","type":"quantitative","axis":{"values":[0,0.05,0.1,0.15,0.2,0.25,0.3,0.35,0.4,0.45,0.5,0.55,0.6,0.65,0.7,0.75,0.8,0.85,0.9,0.95,1,1.05,1.1,1.15],"labelOverlap":false,"format":".2f","title":"Prob","titleFontSize":14,"titleAngle":270,"titleBaseline":"middle","titleAlign":"center","titleX":-65,"titleY":233}}}},
  {"mark":{"type":"line","strokeWidth":2.5,"opacity":0.85},"encoding":{"y":{"field":"p","type":"quantitative","axis":{"values":[0,0.05,0.1,0.15,0.2,0.25,0.3,0.35,0.4,0.45,0.5,0.55,0.6,0.65,0.7,0.75,0.8,0.85,0.9,0.95,1,1.05,1.1,1.15],"labelOverlap":false,"format":".2f","title":"Prob","titleFontSize":14,"titleAngle":270,"titleBaseline":"middle","titleAlign":"center","titleX":-65,"titleY":233}}}}
 ]
},
{
 "width":1986,"height":312,
 "layer":[
  {"data":{"name":"ref"},"mark":{"type":"rule","color":"#e3e3e3","strokeWidth":1},"encoding":{"y":{"field":"y","type":"quantitative","scale":{"domain":[-0.69,13.91],"nice":false,"zero":false},"axis":{"values":[0,2,4,6,8,10,12],"labelOverlap":false,"title":"Count","titleFontSize":16,"titleAngle":270,"titleBaseline":"middle","titleAlign":"center","titleX":-52,"titleY":156}}}},
  {"data":{"name":"band"},"transform":[{"filter":"datum.pl === 'R'"}],"mark":{"type":"area","color":"#ff4040","opacity":0.17,"stroke":"#ff4040","strokeOpacity":0.25,"strokeWidth":1},
   "encoding":{"x":{"field":"t","type":"quantitative","scale":{"domain":[-8,168],"nice":false,"zero":false},"axis":{"values":[0,20,40,60,80,100,120,140,160],"title":"Round time (seconds)","titleFontSize":20,"titleBaseline":"middle","titleY":47,"grid":false}},"y":{"field":"lo","type":"quantitative"},"y2":{"field":"hi"}}},
  {"data":{"name":"band"},"transform":[{"filter":"datum.pl === 'B'"}],"mark":{"type":"area","color":"#4040ff","opacity":0.15,"stroke":"#4040ff","strokeOpacity":0.25,"strokeWidth":1},
   "encoding":{"x":{"field":"t","type":"quantitative"},"y":{"field":"lo","type":"quantitative"},"y2":{"field":"hi"}}},
  {"data":{"name":"cnt"},"transform":[{"filter":"datum.kd === 'P'"}],"mark":{"type":"line","strokeWidth":3,"opacity":0.6},
   "encoding":{"x":{"field":"t","type":"quantitative"},"y":{"field":"v","type":"quantitative"},
    "color":{"field":"k","type":"nominal","scale":{"domain":["Truth DENZEL BENTLEY: 6","Truth ENDRY SAAVEDRA: 5","Predicted DENZEL BENTLEY: 7.4","Predicted ENDRY SAAVEDRA: 7.0"],"range":["#ff0000","#0000ff","#ff0000","#0000ff"]},"legend":{"orient":"top-left","title":null,"offset":8,"symbolType":"stroke","symbolStrokeWidth":3,"symbolSize":625,"symbolOpacity":0.75,"labelFontSize":14.5,"labelFont":"DejaVu Sans","labelColor":"#222222","labelLimit":500,"fillColor":"rgba(255,255,255,0.8)","strokeColor":"#cccccc","padding":4,"cornerRadius":4,"rowPadding":-3}},
    "strokeDash":{"field":"k","type":"nominal","scale":{"domain":["Truth DENZEL BENTLEY: 6","Truth ENDRY SAAVEDRA: 5","Predicted DENZEL BENTLEY: 7.4","Predicted ENDRY SAAVEDRA: 7.0"],"range":[[1,0],[1,0],[3,5.5],[3,5.5]]},"legend":{"orient":"top-left","title":null,"offset":8,"symbolType":"stroke","symbolStrokeWidth":3,"symbolSize":625,"symbolOpacity":0.75,"labelFontSize":14.5,"labelFont":"DejaVu Sans","labelColor":"#222222","labelLimit":500,"fillColor":"rgba(255,255,255,0.8)","strokeColor":"#cccccc","padding":4,"cornerRadius":4,"rowPadding":-3}}}},
  {"data":{"name":"cnt"},"transform":[{"filter":"datum.kd === 'T'"}],"mark":{"type":"line","strokeWidth":3,"opacity":0.75},
   "encoding":{"x":{"field":"t","type":"quantitative"},"y":{"field":"v","type":"quantitative"},
    "color":{"field":"k","type":"nominal"},
    "strokeDash":{"field":"k","type":"nominal"}}}
 ]
}
]
}
